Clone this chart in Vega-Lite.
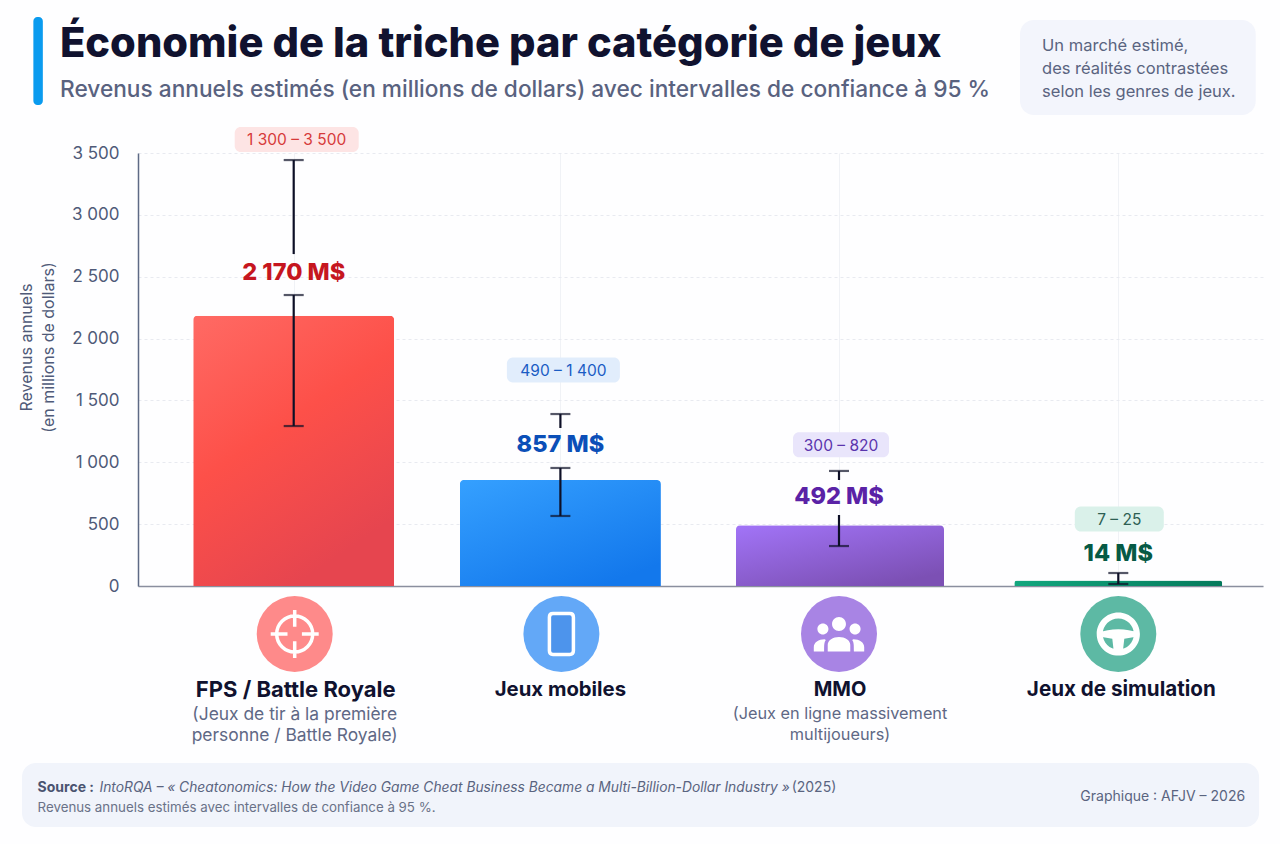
{
"$schema":"https://vega.github.io/schema/vega-lite/v6.json",
"width":1125,"height":433,"autosize":"none",
"padding":{"left":138,"top":153,"right":17,"bottom":258},
"background":"#fefeff",
"config":{"view":{"stroke":null}},
"title":{"text":"Économie de la triche par catégorie de jeux","subtitle":"Revenus annuels estimés (en millions de dollars) avec intervalles de confiance à 95 %","anchor":"start","frame":"group","dx":-78,"offset":-85,"font":"Inter","fontSize":41.6,"fontWeight":800,"color":"#10122f","subtitleFont":"Inter","subtitleFontSize":22.7,"subtitleFontWeight":500,"subtitleColor":"#59627f","subtitlePadding":14},
"data":{"values":[
{"rank":1,"name":"FPS / Battle Royale","sub":"(Jeux de tir à la première\npersonne / Battle Royale)","value":2185,"valueLabel":"2 170 M$","range":"1 300 – 3 500"},
{"rank":2,"name":"Jeux mobiles","sub":"","value":857,"valueLabel":"857 M$","range":"490 – 1 400"},
{"rank":3,"name":"MMO","sub":"(Jeux en ligne massivement\nmultijoueurs)","value":492,"valueLabel":"492 M$","range":"300 – 820"},
{"rank":4,"name":"Jeux de simulation","sub":"","value":45,"valueLabel":"14 M$","range":"7 – 25"}
]},
"datasets":{
"whiskers":[
{"rank":1,"from":3443,"to":2683},{"rank":1,"from":2352,"to":1293},
{"rank":2,"from":1390,"to":1277},{"rank":2,"from":954,"to":566},
{"rank":3,"from":930,"to":857},{"rank":3,"from":574,"to":323},
{"rank":4,"from":105,"to":16}],
"caps":[
{"rank":1,"at":3443},{"rank":1,"at":2352},{"rank":1,"at":1293},
{"rank":2,"at":1390},{"rank":2,"at":954},{"rank":2,"at":566},
{"rank":3,"at":930},{"rank":3,"at":323},
{"rank":4,"at":105},{"rank":4,"at":16}]
},
"encoding":{
"x":{"scale":{"domain":[0.5,1,2,3,4,4.5],"range":[0,155.7,422.4,701,980.3,1125]}},
"y":{"scale":{"domain":[0,3500],"nice":false}}
},
"layer":[
{"data":{"values":[{}]},"mark":{"type":"rect","fill":"#0a9bef","cornerRadius":4},"encoding":{"x":{"datum":0.134},"x2":{"datum":0.1655},"y":{"datum":4599},"y2":{"datum":3888}}},
{"data":{"values":[{}]},"mark":{"type":"rect","fill":"#f3f5fc","cornerRadius":14},"encoding":{"x":{"datum":3.648},"x2":{"datum":4.492},"y":{"datum":4575},"y2":{"datum":3807}}},
{"data":{"values":[{}]},"mark":{"type":"rect","fill":"#f1f4fb","cornerRadius":14},"encoding":{"x":{"datum":0.096},"x2":{"datum":4.504},"y":{"datum":-1431},"y2":{"datum":-1948}}},
{"data":{"values":[{"note":"Un marché estimé,\ndes réalités contrastées\nselon les genres de jeux."}]},"mark":{"type":"text","align":"left","baseline":"top","font":"Inter","fontSize":16.5,"lineHeight":23,"lineBreak":"\n","color":"#5a6480"},"encoding":{"x":{"datum":3.727},"y":{"datum":4430},"text":{"field":"note"}}},
{"data":{"values":[{"t":"Source :"}]},"mark":{"type":"text","align":"left","font":"Inter","fontSize":14,"fontWeight":700,"color":"#4a5370"},"encoding":{"x":{"datum":0.148},"y":{"datum":-1633},"text":{"field":"t"}}},
{"data":{"values":[{"t":"IntoRQA – « Cheatonomics: How the Video Game Cheat Business Became a Multi-Billion-Dollar Industry »"}]},"mark":{"type":"text","align":"left","font":"Inter","fontSize":13.8,"fontStyle":"italic","color":"#5a6480"},"encoding":{"x":{"datum":0.354},"y":{"datum":-1633},"text":{"field":"t"}}},
{"data":{"values":[{"t":"(2025)"}]},"mark":{"type":"text","align":"left","font":"Inter","fontSize":14,"color":"#5a6480"},"encoding":{"x":{"datum":2.83},"y":{"datum":-1633},"text":{"field":"t"}}},
{"data":{"values":[{"t":"Revenus annuels estimés avec intervalles de confiance à 95 %."}]},"mark":{"type":"text","align":"left","font":"Inter","fontSize":13.3,"color":"#6a7288"},"encoding":{"x":{"datum":0.148},"y":{"datum":-1794},"text":{"field":"t"}}},
{"data":{"values":[{"t":"Graphique : AFJV – 2026"}]},"mark":{"type":"text","align":"right","font":"Inter","fontSize":14,"color":"#5a6480"},"encoding":{"x":{"datum":4.454},"y":{"datum":-1705},"text":{"field":"t"}}},
{"mark":{"type":"bar","cornerRadiusTopLeft":4,"cornerRadiusTopRight":4,
"width":{"expr":"datum.rank<=2?201:208"},
"xOffset":{"expr":"[0,0,1,0][datum.rank-1]"},
"fill":{"expr":"[{gradient:'linear',x1:0,y1:0,x2:0.5,y2:1,stops:[{offset:0,color:'#ff6a64'},{offset:0.5,color:'#fd5049'},{offset:1,color:'#e6454f'}]},{gradient:'linear',x1:0,y1:0,x2:0.7,y2:1,stops:[{offset:0,color:'#35a0ff'},{offset:1,color:'#1378ec'}]},{gradient:'linear',x1:0,y1:0,x2:0.7,y2:1,stops:[{offset:0,color:'#a274f8'},{offset:1,color:'#7c50b4'}]},{gradient:'linear',x1:0,y1:0,x2:1,y2:0,stops:[{offset:0,color:'#12a77e'},{offset:1,color:'#057a5c'}]}][datum.rank-1]"}},
"encoding":{
"x":{"field":"rank","type":"quantitative","axis":{"values":[1,2,3,4],"title":null,"labels":false,"ticks":false,"grid":true,"gridColor":"#f0f2f6","gridWidth":1,"domainColor":"#8a8f9e","domainWidth":1.5}},
"y":{"field":"value","type":"quantitative","axis":{"values":[0,500,1000,1500,2000,2500,3000,3500],"labelExpr":"replace(format(datum.value,',d'),',',' ')","title":["Revenus annuels","(en millions de dollars)"],"titleFont":"Inter","titleFontSize":16,"titleFontWeight":400,"titleColor":"#4f5a78","titleLineHeight":22,"titleX":-104,"titleY":194,"labelFont":"Inter","labelFontSize":17,"labelColor":"#4f5a78","labelPadding":19,"ticks":false,"domainColor":"#5e6a85","domainWidth":1.5,"grid":true,"gridColor":"#e8eaf0","gridDash":[3,3],"gridWidth":1}}
}},
{"data":{"name":"whiskers"},"mark":{"type":"rule","color":"#0d0f26","strokeWidth":2.2},"encoding":{"x":{"field":"rank","type":"quantitative"},"y":{"field":"from","type":"quantitative"},"y2":{"field":"to"}}},
{"data":{"name":"caps"},"mark":{"type":"tick","orient":"horizontal","size":20,"thickness":2.2,"color":"#0d0f26"},"encoding":{"x":{"field":"rank","type":"quantitative"},"y":{"field":"at","type":"quantitative"}}},
{"mark":{"type":"rect","height":25,"cornerRadius":6,"width":{"expr":"[124,113,96,89][datum.rank-1]"},"xOffset":{"expr":"[3,3,2,1][datum.rank-1]"},"yOffset":{"expr":"[-176.2,-110,-80.5,-61.4][datum.rank-1]"},"fill":{"expr":"['#fde4e4','#e1edfc','#e9e5fb','#daf1ea'][datum.rank-1]"}},"encoding":{"x":{"field":"rank","type":"quantitative"},"y":{"field":"value","type":"quantitative"}}},
{"mark":{"type":"text","font":"Inter","fontSize":15.5,"dy":1,"xOffset":{"expr":"[3,3,2,1][datum.rank-1]"},"yOffset":{"expr":"[-176.2,-110,-80.5,-61.4][datum.rank-1]"},"fill":{"expr":"['#d63a3a','#1a5cc4','#5a34ad','#2d5f53'][datum.rank-1]"}},"encoding":{"x":{"field":"rank","type":"quantitative"},"y":{"field":"value","type":"quantitative"},"text":{"field":"range"}}},
{"mark":{"type":"text","font":"Inter","fontSize":23.5,"fontWeight":800,"dy":1,"yOffset":{"expr":"[-43.7,-36,-29,-27.4][datum.rank-1]"},"fill":{"expr":"['#c6161f','#0b4fb8','#5a22a6','#065a45'][datum.rank-1]"}},"encoding":{"x":{"field":"rank","type":"quantitative"},"y":{"field":"value","type":"quantitative"},"text":{"field":"valueLabel"}}},
{"mark":{"type":"point","shape":"circle","filled":true,"opacity":1,"size":5776,"yOffset":48,"xOffset":{"expr":"[1,1,0,0][datum.rank-1]"},"fill":{"expr":"['#fe8a8a','#63a8f7','#a884e4','#5db9a4'][datum.rank-1]"}},"encoding":{"x":{"field":"rank","type":"quantitative"},"y":{"datum":0}}},
{"mark":{"type":"point","filled":true,"opacity":1,"size":2304,"yOffset":48,"xOffset":{"expr":"[1,1,0,0][datum.rank-1]"},
"fill":{"expr":"['transparent','#4d94ec','white','white'][datum.rank-1]"},
"stroke":{"expr":"['white','white','transparent','transparent'][datum.rank-1]"},
"strokeWidth":{"expr":"[3.5,3.5,0,0][datum.rank-1]"},
"shape":{"expr":"['M0.75 0A0.75 0.75 0 1 1 -0.75 0A0.75 0.75 0 1 1 0.75 0M-1 0L-0.3 0M0.3 0L1 0M0 -1L0 -0.3M0 0.3L0 1','M-0.35 -0.85L0.35 -0.85Q0.5 -0.85 0.5 -0.7L0.5 0.7Q0.5 0.85 0.35 0.85L-0.35 0.85Q-0.5 0.85 -0.5 0.7L-0.5 -0.7Q-0.5 -0.85 -0.35 -0.85Z','M0.29 -0.42A0.29 0.29 0 1 1 -0.29 -0.42A0.29 0.29 0 1 1 0.29 -0.42ZM-0.44 -0.21A0.23 0.23 0 1 1 -0.9 -0.21A0.23 0.23 0 1 1 -0.44 -0.21ZM0.9 -0.21A0.23 0.23 0 1 1 0.44 -0.21A0.23 0.23 0 1 1 0.9 -0.21ZM-0.47 0.73L-0.47 0.45C-0.47 0.25 -0.25 0.12 0 0.12C0.25 0.12 0.47 0.25 0.47 0.45L0.47 0.73ZM-1.05 0.73L-1.05 0.55C-1.05 0.35 -0.85 0.22 -0.6 0.22L-0.55 0.25C-0.62 0.35 -0.62 0.45 -0.62 0.73ZM1.05 0.73L0.62 0.73C0.62 0.45 0.62 0.35 0.55 0.25L0.6 0.22C0.85 0.22 1.05 0.35 1.05 0.55Z','M0.9 0A0.9 0.9 0 1 1 -0.9 0A0.9 0.9 0 1 1 0.9 0ZM0.65 0A0.65 0.65 0 1 0 -0.65 0A0.65 0.65 0 1 0 0.65 0ZM-0.8 -0.05C-0.4 -0.25 0.4 -0.25 0.8 -0.05L0.8 0.1L0.25 0.2L0.18 0.8L-0.18 0.8L-0.25 0.2L-0.8 0.1Z'][datum.rank-1]"}},"encoding":{"x":{"field":"rank","type":"quantitative"},"y":{"datum":0}}},
{"mark":{"type":"text","font":"Inter","fontSize":{"expr":"[22,20.3,20,20.6][datum.rank-1]"},"fontWeight":700,"color":"#10122f","yOffset":104,"xOffset":{"expr":"[2,0,1,3][datum.rank-1]"}},"encoding":{"x":{"field":"rank","type":"quantitative"},"y":{"datum":0},"text":{"field":"name"}}},
{"mark":{"type":"text","font":"Inter","fontSize":{"expr":"[17.4,16,16.3,16][datum.rank-1]"},"color":"#5f6885","lineBreak":"\n","lineHeight":21,"baseline":"top","yOffset":120,"xOffset":{"expr":"[1,0,1,0][datum.rank-1]"}},"encoding":{"x":{"field":"rank","type":"quantitative"},"y":{"datum":0},"text":{"field":"sub"}}}
]
}
